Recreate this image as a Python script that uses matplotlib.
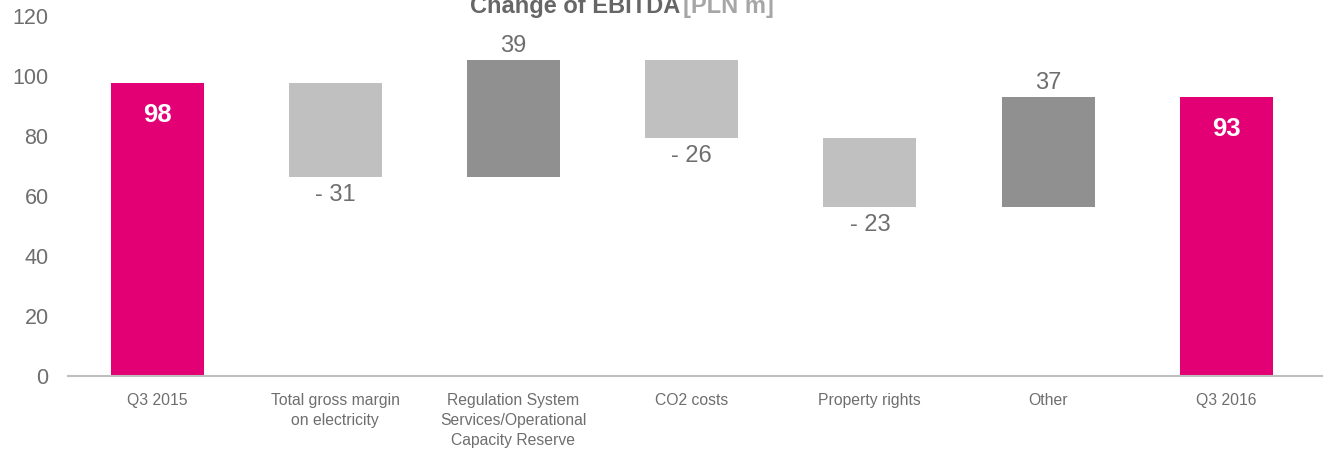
import matplotlib.pyplot as plt
import numpy as np

plt.rcParams['font.family'] = ['Liberation Sans', 'DejaVu Sans']

# data
categories = ['Q3 2015', 'Total gross margin\non electricity',
              'Regulation System\nServices/Operational\nCapacity Reserve',
              'CO2 costs', 'Property rights', 'Other', 'Q3 2016']
start_value = 97.6
changes = [-31.2, 38.8, -26.0, -22.9, 36.6]

magenta = '#E20074'
light_grey = '#C0C0C0'
dark_grey = '#909090'
text_grey = '#6E6E6E'

# waterfall geometry
end_value = start_value + sum(changes)
bottoms, heights, colors = [0], [start_value], [magenta]
level = start_value
for c in changes:
    new = level + c
    bottoms.append(min(level, new))
    heights.append(abs(c))
    colors.append(dark_grey if c > 0 else light_grey)
    level = new
bottoms.append(0)
heights.append(end_value)
colors.append(magenta)

fig = plt.figure(figsize=(13.26, 4.54), dpi=100)
ax = fig.add_axes([0.0513, 0.172, 0.946, 0.793])

x = np.arange(len(categories))
bars = ax.bar(x, heights, bottom=bottoms, width=0.522, color=colors, edgecolor='none')

# labels
for xi, v in [(x[0], start_value), (x[-1], end_value)]:
    ax.annotate(f'{v:.0f}', (xi, v), xytext=(0, -32), textcoords='offset pixels',
                ha='center', va='center', color='white', fontsize=18.5, fontweight='bold')
for i, c in enumerate(changes, start=1):
    if c > 0:
        ax.annotate(f'{c:.0f}', (x[i], bottoms[i] + heights[i]), xytext=(0, 14),
                    textcoords='offset pixels', ha='center', va='center',
                    color=text_grey, fontsize=17)
    else:
        ax.annotate(f'- {abs(c):.0f}', (x[i], bottoms[i]), xytext=(0, -18),
                    textcoords='offset pixels', ha='center', va='center',
                    color=text_grey, fontsize=17)

ax.set_xlim(-0.5, 6.54)
ax.set_ylim(0, 120)
ax.set_yticks(range(0, 121, 20))
ax.set_xticks(x)
ax.set_xticklabels(categories, fontsize=11.3, color=text_grey, linespacing=1.45)
ax.tick_params(axis='y', length=0, pad=14, labelsize=15.5, labelcolor=text_grey)
ax.tick_params(axis='x', length=0, pad=12)

for s in ['top', 'right', 'left']:
    ax.spines[s].set_visible(False)
ax.spines['bottom'].set_color('#BFBFBF')
ax.spines['bottom'].set_linewidth(1.5)

# title, partially cut at the top as in the source
fig.text(680 / 1326, 1 - 13 / 454, 'Change of EBITDA', ha='right', va='baseline',
         fontsize=17, fontweight='bold', color='#666666')
fig.text(683 / 1326, 1 - 13 / 454, '[PLN m]', ha='left', va='baseline',
         fontsize=17, fontweight='bold', color='#A6A6A6')

fig.savefig('out.png', dpi=100)
